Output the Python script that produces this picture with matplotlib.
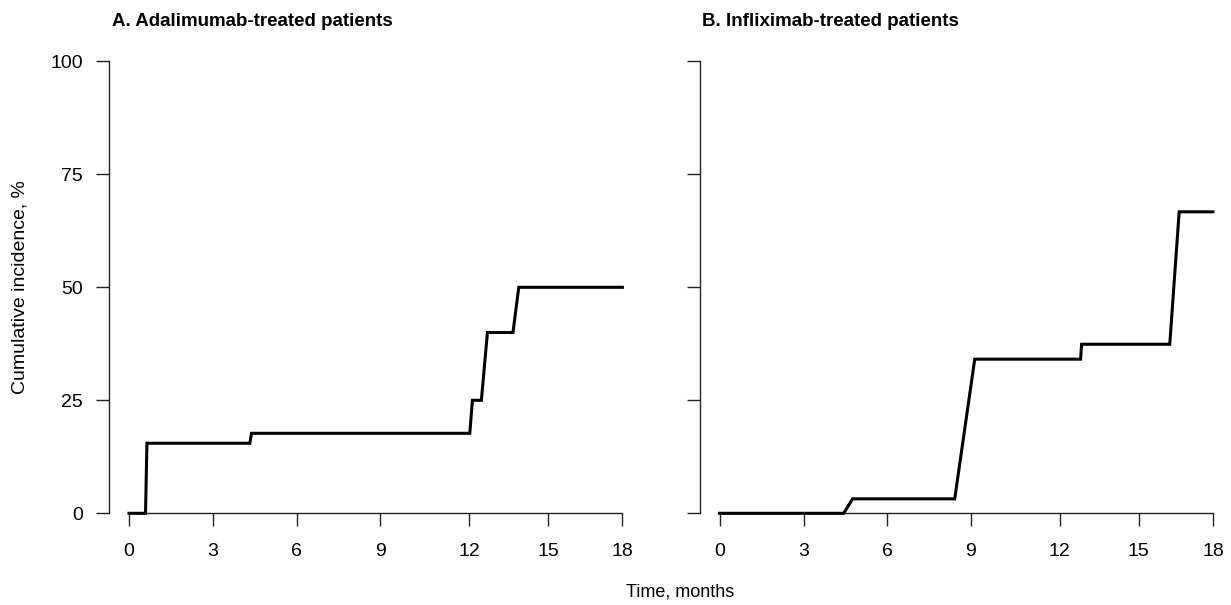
import numpy as np
import matplotlib
matplotlib.use("Agg")
import matplotlib.pyplot as plt

plt.rcParams['font.family'] = ['Liberation Sans', 'DejaVu Sans']

# ---- data (months, cumulative incidence %) ----
ada_time = [0, 0.59, 0.64, 4.32, 4.38, 12.03, 12.13, 12.47, 12.70, 13.67, 13.89, 18]
ada_inc = [0, 0, 15.5, 15.5, 17.7, 17.7, 25.0, 25.0, 40.0, 40.0, 50.0, 50.0]

ifx_time = [0, 4.44, 4.76, 8.42, 9.13, 12.80, 12.84, 16.26, 16.64, 18]
ifx_inc = [0, 0, 3.2, 3.2, 34.1, 34.1, 37.4, 37.4, 66.7, 66.7]

x_ticks = [0, 3, 6, 9, 12, 15, 18]
y_ticks = [0, 25, 50, 75, 100]
titles = ["A. Adalimumab-treated patients", "B. Infliximab-treated patients"]

tick_pos = np.array([0, 84, 167.7, 251.4, 340, 419, 493.4])
tick_val = np.array(x_ticks, float)
s0 = (tick_pos[1] - tick_pos[0]) / 3
s1 = (tick_pos[-1] - tick_pos[-2]) / 3

def fwd(x):
    x = np.asarray(x, float)
    y = np.interp(x, tick_val, tick_pos)
    y = np.where(x < tick_val[0], tick_pos[0] + (x - tick_val[0]) * s0, y)
    y = np.where(x > tick_val[-1], tick_pos[-1] + (x - tick_val[-1]) * s1, y)
    return y

def inv(p):
    p = np.asarray(p, float)
    x = np.interp(p, tick_pos, tick_val)
    x = np.where(p < tick_pos[0], tick_val[0] + (p - tick_pos[0]) / s0, x)
    x = np.where(p > tick_pos[-1], tick_val[-1] + (p - tick_pos[-1]) / s1, x)
    return x

W, H = 1231, 605
fig = plt.figure(figsize=(W / 100, H / 100), dpi=100)

pad_px = 19.5
ax_w = pad_px * 2 + tick_pos[-1]
bottom_px, top_px = 513.3, 61.3
lefts = [109.5, 700]
series = [(ada_time, ada_inc), (ifx_time, ifx_inc)]

axes_color = '#222222'
for i, (lx, (t, v)) in enumerate(zip(lefts, series)):
    ax = fig.add_axes([lx / W, (H - bottom_px) / H, ax_w / W, (bottom_px - top_px) / H])
    ax.set_xscale('function', functions=(fwd, inv))
    ax.plot(t, v, color='black', lw=2.2, solid_joinstyle='miter', clip_on=False, zorder=3)
    ax.set_xlim(float(inv(-pad_px)), float(inv(tick_pos[-1] + pad_px)))
    ax.set_ylim(0, 100)
    ax.set_xticks(x_ticks)
    ax.set_xticklabels([str(v) for v in x_ticks])
    ax.set_yticks(y_ticks)
    if i == 0:
        ax.set_yticklabels([str(v) for v in y_ticks])
    else:
        ax.set_yticklabels([])
    ax.xaxis.set_minor_locator(matplotlib.ticker.NullLocator())
    for s in ['top', 'right']:
        ax.spines[s].set_visible(False)
    ax.spines['left'].set_bounds(0, 100)
    ax.spines['bottom'].set_bounds(0, 18)
    for s in ['left', 'bottom']:
        ax.spines[s].set_color(axes_color)
        ax.spines[s].set_linewidth(1.0)
    ax.tick_params(axis='both', direction='out', length=9.1, width=1.0,
                   color=axes_color, labelsize=14, labelcolor='black')
    ax.tick_params(axis='y', pad=10)
    ax.tick_params(axis='x', pad=12)
    ax.patch.set_alpha(0)
    fig.text((lx + 2) / W, 1 - 26 / H, titles[i], fontsize=13.5, fontweight='bold',
             ha='left', va='baseline')

fig.text(20 / W, 1 - 287 / H, "Cumulative incidence, %", rotation=90,
         ha='center', va='center', fontsize=14)
fig.text(680 / W, 1 - 592 / H, "Time, months", ha='center', va='center', fontsize=13)

fig.savefig("out.png", dpi=100)
